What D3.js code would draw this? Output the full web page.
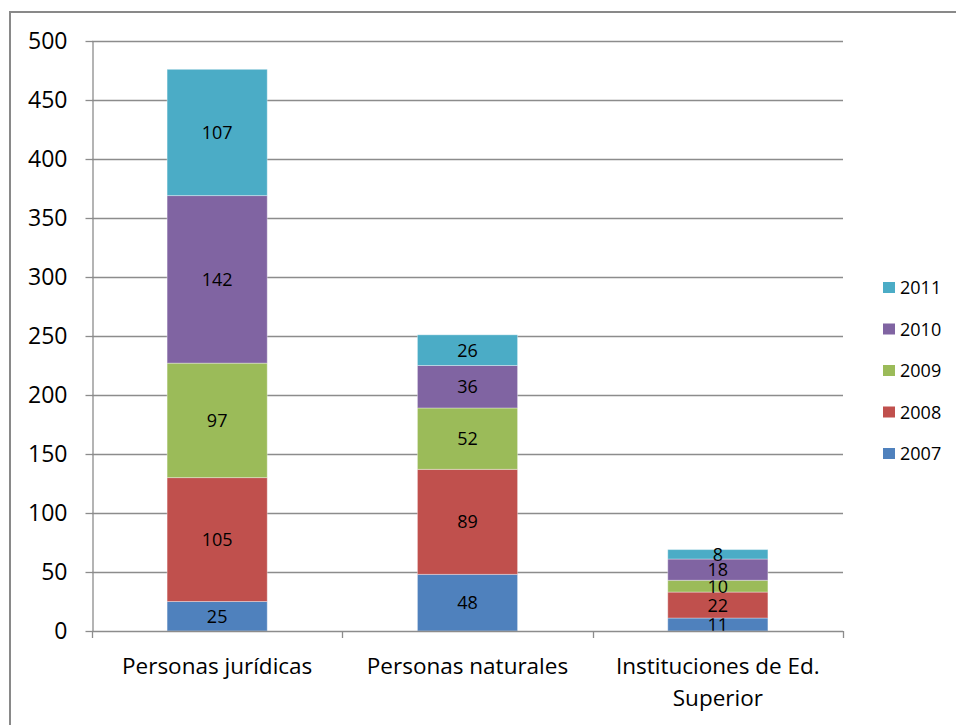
<!DOCTYPE html>
<html>
<head>
<meta charset="utf-8">
<script src="https://cdn.jsdelivr.net/npm/d3@7"></script>
<style>
  html, body { margin: 0; padding: 0; background: #fff; }
  svg { display: block; font-family: "Open Sans", sans-serif; }
  svg text { font-family: "Open Sans", sans-serif; }
</style>
</head>
<body>
<svg id="chart" width="956" height="725"></svg>
<script>
// Categories and yearly counts (stacked bottom to top: 2007 → 2011)
const categories = ["Personas jurídicas", "Personas naturales", "Instituciones de Ed. Superior"];
const categoryLines = [["Personas jurídicas"], ["Personas naturales"], ["Instituciones de Ed.", "Superior"]];
const years = ["2007", "2008", "2009", "2010", "2011"];
const values2007 = [25, 48, 11];
const values2008 = [105, 89, 22];
const values2009 = [97, 52, 10];
const values2010 = [142, 36, 18];
const values2011 = [107, 26, 8];
const yTicks = [0, 50, 100, 150, 200, 250, 300, 350, 400, 450, 500];
const colors = ["#4F81BD", "#C0504D", "#9BBB59", "#8064A2", "#4BACC6"];

const seriesValues = [values2007, values2008, values2009, values2010, values2011];
const rows = categories.map((c, i) => {
  const r = { category: c };
  years.forEach((y, k) => { r[y] = seriesValues[k][i]; });
  return r;
});

const svg = d3.select("#chart");

// Outer chart frame
svg.append("rect")
  .attr("x", 10).attr("y", 12)
  .attr("width", 960).attr("height", 730)
  .attr("fill", "none").attr("stroke", "#898989").attr("stroke-width", 2);

const plot = { left: 92, right: 843, top: 41, bottom: 631 };

const x = d3.scaleBand()
  .domain(categories)
  .range([plot.left, plot.right])
  .paddingInner(0.6)
  .paddingOuter(0.3);

const y = d3.scaleLinear().domain([0, 500]).range([plot.bottom, plot.top]);

// Horizontal gridlines
svg.append("g")
  .selectAll("line")
  .data(yTicks.filter(t => t > 0))
  .join("line")
  .attr("x1", plot.left).attr("x2", plot.right)
  .attr("y1", d => Math.round(y(d)) + 0.5).attr("y2", d => Math.round(y(d)) + 0.5)
  .attr("stroke", "#8c8c8c").attr("stroke-width", 1.3);

// Y axis
const yAxis = svg.append("g")
  .attr("transform", `translate(${plot.left + 0.5},0)`)
  .call(d3.axisLeft(y).tickValues(yTicks).tickSize(7).tickPadding(18).tickSizeOuter(0));
yAxis.select(".domain").attr("stroke", "#8c8c8c").attr("stroke-width", 1.3);
yAxis.selectAll(".tick line").attr("stroke", "#8c8c8c").attr("stroke-width", 1.3);
yAxis.selectAll(".tick text")
  .attr("font-size", 23).attr("fill", "#000")
  .attr("dy", "0.34em")
  .style("font-family", "'Open Sans', sans-serif");

// Stacked bars
const stack = d3.stack().keys(years);
const stacked = stack(rows);

const layers = svg.append("g")
  .selectAll("g")
  .data(stacked)
  .join("g")
  .attr("fill", (d, i) => colors[i]);

layers.selectAll("rect")
  .data(d => d.map(p => ({ p, key: d.key })))
  .join("rect")
  .attr("x", d => x(d.p.data.category))
  .attr("width", x.bandwidth())
  .attr("y", d => y(d.p[1]))
  .attr("height", d => y(d.p[0]) - y(d.p[1]))
  .attr("stroke", "rgba(255,255,255,0.35)")
  .attr("stroke-width", 1);

// Value labels centred in each segment
layers.selectAll("text")
  .data(d => d.map(p => ({ p, key: d.key })))
  .join("text")
  .attr("x", d => x(d.p.data.category) + x.bandwidth() / 2)
  .attr("y", d => (y(d.p[0]) + y(d.p[1])) / 2)
  .attr("dy", "0.36em")
  .attr("text-anchor", "middle")
  .attr("font-size", 18)
  .attr("fill", "#000")
  .text(d => d.p.data[d.key]);

// X axis baseline with category separators
const xAxisG = svg.append("g");
xAxisG.append("line")
  .attr("x1", plot.left).attr("x2", plot.right)
  .attr("y1", plot.bottom + 0.5).attr("y2", plot.bottom + 0.5)
  .attr("stroke", "#8c8c8c").attr("stroke-width", 1.3);
const boundaries = d3.range(categories.length + 1).map(i => plot.left + i * (plot.right - plot.left) / categories.length);
xAxisG.selectAll("line.sep")
  .data(boundaries)
  .join("line")
  .attr("class", "sep")
  .attr("x1", d => Math.round(d) + 0.5).attr("x2", d => Math.round(d) + 0.5)
  .attr("y1", plot.bottom).attr("y2", plot.bottom + 7)
  .attr("stroke", "#8c8c8c").attr("stroke-width", 1.3);

// Category labels (wrapped)
const catLabels = xAxisG.selectAll("text.cat")
  .data(categories)
  .join("text")
  .attr("class", "cat")
  .attr("text-anchor", "middle")
  .attr("font-size", 22.5)
  .attr("fill", "#000");
catLabels.each(function (d, i) {
  const t = d3.select(this);
  categoryLines[i].forEach((line, k) => {
    t.append("tspan")
      .attr("x", x(d) + x.bandwidth() / 2)
      .attr("y", 674 + k * 32)
      .text(line);
  });
});

// Legend (2011 on top)
const legendItems = years.slice().reverse();
const legend = svg.append("g")
  .selectAll("g")
  .data(legendItems)
  .join("g")
  .attr("transform", (d, i) => `translate(883, ${282 + i * 41.5})`);
legend.append("rect")
  .attr("width", 12).attr("height", 11)
  .attr("fill", d => colors[years.indexOf(d)]);
legend.append("text")
  .attr("x", 17).attr("y", 6).attr("dy", "0.36em")
  .attr("font-size", 18).attr("fill", "#000")
  .text(d => d);
</script>
</body>
</html>
